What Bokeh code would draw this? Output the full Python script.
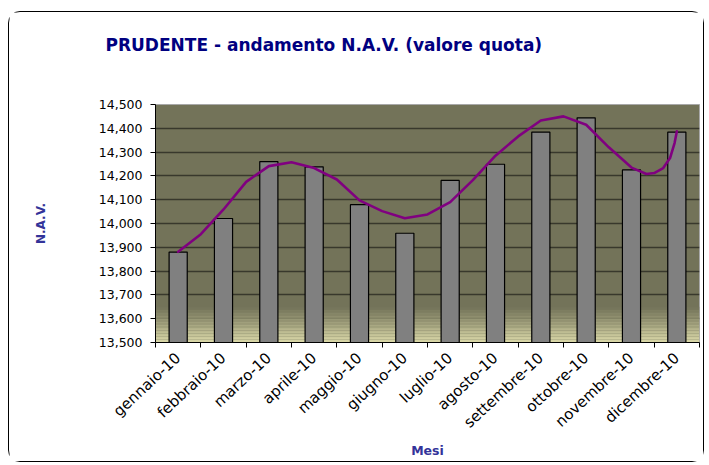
from bokeh.plotting import figure
from bokeh.models import (Range1d, FixedTicker, NumeralTickFormatter)
from bokeh.embed import file_html
from bokeh.resources import INLINE

months = ["gennaio-10", "febbraio-10", "marzo-10", "aprile-10", "maggio-10", "giugno-10",
          "luglio-10", "agosto-10", "settembre-10", "ottobre-10", "novembre-10", "dicembre-10"]
nav = [13880, 14021, 14260, 14238, 14079, 13959, 14181, 14249, 14384, 14444, 14225, 14384]

# smoothed trend line (position in months from gennaio, value)
trend_pos = [0.0, 0.5, 1.0, 1.5, 2.0, 2.5, 3.0, 3.5, 4.0, 4.5, 5.0, 5.5, 6.0, 6.5, 7.0, 7.5,
             8.0, 8.5, 9.0, 9.5, 10.0, 10.33, 10.5, 10.7, 10.85, 10.95, 11.0]
trend_val = [13881, 13955, 14059, 14175, 14241, 14257, 14233, 14185, 14097, 14052, 14022, 14038,
             14090, 14182, 14285, 14366, 14433, 14450, 14415, 14320, 14235, 14208, 14212, 14233,
             14275, 14338, 14387]

y_min, y_max, y_step = 13500, 14500, 100

FONT = "DejaVu Sans"

p = figure(width=696, height=451, output_backend="svg", toolbar_location=None,
           x_range=Range1d(0, len(months)), y_range=Range1d(y_min, y_max),
           min_border_left=146, min_border_right=6, min_border_top=91, min_border_bottom=121)
p.styles = {"border": "1px solid #000000", "border-radius": "12px",
            "margin-left": "8px", "margin-top": "11px"}

# title (second, blank line only reserves space so the title sits high)
p.title.text = "PRUDENTE - andamento N.A.V. (valore quota)\n "
p.title.align = "left"
p.title.offset = -50
p.title.standoff = 41
p.title.text_line_height = 1.45
p.title.text_font = FONT
p.title.text_font_style = "bold"
p.title.text_font_size = "17px"
p.title.text_color = "#000080"

p.background_fill_color = "#737359"
p.border_fill_color = "#ffffff"
p.outline_line_color = "#a8a8a8"
p.outline_line_width = 1

# bottom gradient of the plot area (styling only)
n_bands = 24
g_lo, g_hi = y_min, y_min + 150
c_bot = (218, 216, 168)
c_top = (115, 115, 89)
for k in range(n_bands):
    t = (k + 0.5) / n_bands
    col = tuple(int(round(c_bot[j] + (c_top[j] - c_bot[j]) * t)) for j in range(3))
    hexc = "#%02x%02x%02x" % col
    b0 = g_lo + (g_hi - g_lo) * k / n_bands
    b1 = g_lo + (g_hi - g_lo) * (k + 1) / n_bands
    p.quad(left=0, right=len(months), bottom=b0, top=b1, fill_color=hexc, line_color=None)

# grid
p.xgrid.visible = False
p.ygrid.grid_line_color = "#38382c"
p.ygrid.grid_line_width = 1.5
p.ygrid.ticker = FixedTicker(ticks=list(range(y_min, y_max + 1, y_step)))
p.ygrid.level = "underlay"

xs = [i + 0.5 for i in range(len(months))]
p.vbar(x=xs, top=nav, bottom=y_min, width=0.4, fill_color="#808080",
       line_color="#000000", line_width=1.2)

p.line(x=[v + 0.5 for v in trend_pos], y=trend_val, line_color="#800080", line_width=2.6,
       line_join="round", line_cap="round")

# y axis
yax = p.yaxis[0]
yax.ticker = FixedTicker(ticks=list(range(y_min, y_max + 1, y_step)))
yax.formatter = NumeralTickFormatter(format="0,0")
yax.major_label_text_font = FONT
yax.major_label_text_font_size = "12.5px"
yax.major_label_text_color = "#000000"
yax.major_tick_out = 5
yax.major_tick_in = 0
yax.minor_tick_out = 0
yax.minor_tick_in = 0
yax.axis_line_color = "#000000"
yax.major_label_standoff = 8
yax.axis_label = "N.A.V."
yax.axis_label_text_font = FONT
yax.axis_label_text_font_style = "bold"
yax.axis_label_text_font_size = "12px"
yax.axis_label_text_color = "#333399"
yax.axis_label_standoff = 48

# x axis
xax = p.xaxis[0]
xax.ticker = FixedTicker(ticks=xs, minor_ticks=list(range(len(months) + 1)))
xax.major_label_overrides = {x: m for x, m in zip(xs, months)}
xax.major_label_orientation = 0.75
xax.major_label_text_font = FONT
xax.major_label_text_font_size = "15px"
xax.major_label_text_color = "#000000"
xax.major_label_standoff = 8
xax.major_tick_out = 0
xax.major_tick_in = 0
xax.minor_tick_out = 5
xax.minor_tick_in = 0
xax.minor_tick_line_color = "#000000"
xax.axis_line_color = "#000000"
xax.axis_label = "Mesi"
xax.axis_label_text_font = FONT
xax.axis_label_text_font_style = "bold"
xax.axis_label_text_font_size = "12.5px"
xax.axis_label_text_color = "#333399"
xax.axis_label_standoff = 2

open("out.html", "w").write(file_html(p, INLINE))
